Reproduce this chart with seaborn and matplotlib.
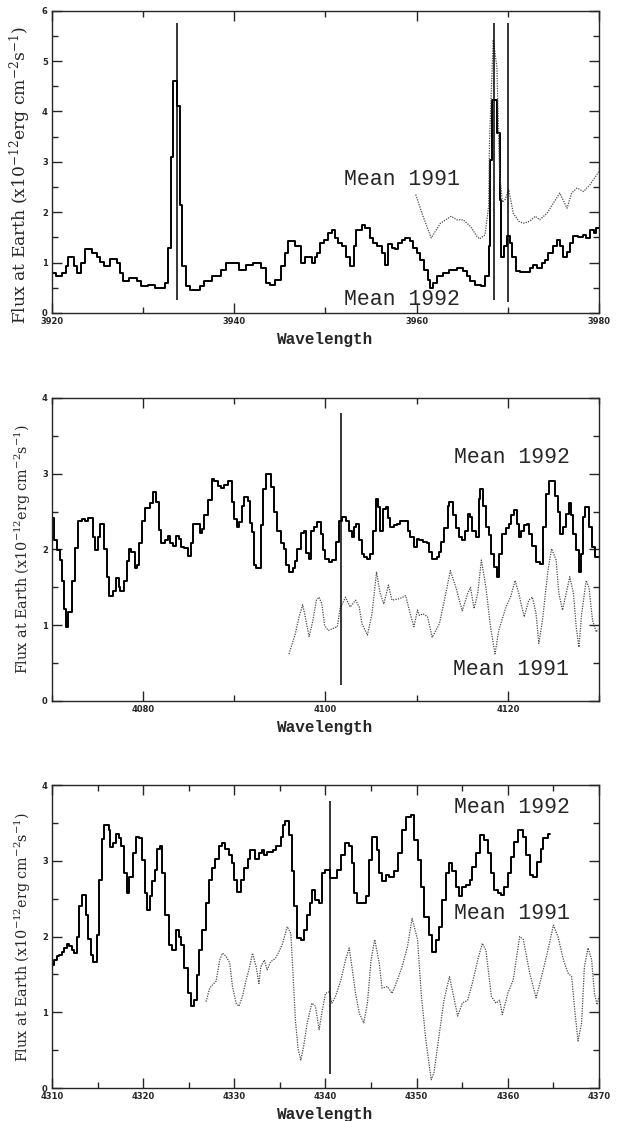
import numpy as np
import pandas as pd
import matplotlib
matplotlib.use('Agg')
import matplotlib.pyplot as plt
import seaborn as sns
from matplotlib.ticker import MultipleLocator

# ---------------------------------------------
# Data: 1992 (step) and 1991 (dotted) means
# ---------------------------------------------

# Panel 1: Ca II H & K region
p1_wl_92 = [3920.0, 3920.4, 3921.1, 3921.5, 3921.8, 3922.4, 3922.7, 3923.2, 3923.6, 3924.4,
            3924.9, 3925.3, 3925.7, 3926.4, 3927.1, 3927.5, 3927.8, 3928.5, 3929.3, 3929.8,
            3930.5, 3931.3, 3932.4, 3932.7, 3933.1, 3933.3, 3933.7, 3934.0, 3934.3, 3934.7,
            3935.1, 3936.2, 3936.7, 3937.5, 3938.5, 3939.1, 3940.5, 3941.3, 3942.0, 3942.9,
            3943.5, 3943.9, 3944.5, 3945.1, 3945.6, 3945.9, 3946.7, 3947.3, 3947.8, 3948.5,
            3948.9, 3949.1, 3949.4, 3949.8, 3950.3, 3950.7, 3951.0, 3951.4, 3951.8, 3952.3,
            3952.7, 3953.1, 3953.4, 3954.0, 3954.3, 3954.9, 3955.2, 3955.6, 3956.2, 3956.5,
            3956.9, 3957.3, 3957.6, 3958.0, 3958.4, 3958.7, 3959.3, 3959.6, 3960.0, 3960.4,
            3960.8, 3961.2, 3961.5, 3961.8, 3962.2, 3962.9, 3963.5, 3964.4, 3965.1, 3965.5,
            3965.9, 3966.4, 3967.1, 3967.5, 3967.9, 3968.0, 3968.3, 3968.8, 3969.1, 3969.3,
            3969.6, 3969.9, 3970.2, 3970.5, 3970.9, 3971.3, 3972.4, 3972.8, 3973.2, 3973.7,
            3974.1, 3974.4, 3975.0, 3975.4, 3975.7, 3976.1, 3976.5, 3976.8, 3977.2, 3977.7,
            3978.3, 3978.6, 3979.0, 3979.4, 3979.7, 3980.0]
p1_flux_92 = [0.80, 0.74, 0.80, 0.93, 1.12, 0.93, 0.79, 1.00, 1.27, 1.19,
              1.12, 1.02, 0.93, 1.07, 1.00, 0.79, 0.63, 0.69, 0.63, 0.54,
              0.56, 0.50, 0.60, 1.29, 3.10, 4.60, 4.10, 2.15, 0.93, 0.54,
              0.46, 0.53, 0.63, 0.73, 0.85, 1.00, 0.86, 0.96, 1.00, 0.89,
              0.60, 0.55, 0.66, 0.93, 1.19, 1.43, 1.32, 1.00, 1.12, 1.00,
              1.12, 1.19, 1.39, 1.45, 1.59, 1.65, 1.49, 1.39, 1.32, 1.12,
              0.93, 1.32, 1.65, 1.75, 1.69, 1.49, 1.39, 1.32, 1.19, 0.96,
              1.36, 1.29, 1.26, 1.39, 1.45, 1.49, 1.42, 1.29, 1.19, 1.06,
              0.86, 0.66, 0.50, 0.59, 0.73, 0.79, 0.85, 0.89, 0.83, 0.73,
              0.63, 0.56, 0.53, 0.73, 1.32, 3.04, 4.23, 3.57, 2.25, 1.12,
              1.32, 1.52, 1.39, 1.12, 0.83, 0.81, 0.89, 0.96, 0.89, 1.00,
              1.06, 1.19, 1.32, 1.45, 1.32, 1.12, 1.22, 1.39, 1.52, 1.51,
              1.55, 1.49, 1.65, 1.59, 1.69, 1.69]
p1_wl_91 = [3959.9, 3960.7, 3961.6, 3962.6, 3963.8, 3964.4, 3965.1, 3965.9, 3966.6, 3966.9,
            3967.5, 3967.9, 3968.0, 3968.2, 3968.4, 3968.8, 3969.0, 3969.1, 3969.4, 3969.7,
            3970.1, 3970.6, 3971.2, 3971.7, 3972.4, 3973.0, 3973.5, 3974.3, 3975.0, 3975.7,
            3976.5, 3977.0, 3977.6, 3978.3, 3979.0, 3980.0]
p1_flux_91 = [2.35, 1.92, 1.49, 1.78, 1.92, 1.85, 1.85, 1.72, 1.52, 1.47,
              1.55, 2.12, 3.44, 4.43, 5.42, 4.89, 3.50, 2.78, 2.20, 2.25,
              2.45, 1.98, 1.82, 1.78, 1.82, 1.92, 1.85, 1.98, 2.18, 2.38,
              2.08, 2.38, 2.48, 2.41, 2.54, 2.81]
p1_lines = [3933.66, 3968.47, 3970.07]
p1_line_lo = [0.26, 0.26, 0.22]
p1_line_hi = [5.75, 5.75, 5.75]

# Panel 2: H-delta region
p2_wl_92 = [4070.0, 4070.25, 4070.55, 4070.9, 4071.1, 4071.3, 4071.5, 4071.8, 4072.2, 4072.5,
            4072.8, 4073.3, 4073.6, 4074.0, 4074.5, 4074.7, 4075.1, 4075.3, 4075.7, 4076.0,
            4076.3, 4076.7, 4077.0, 4077.3, 4077.5, 4077.9, 4078.2, 4078.5, 4078.7, 4079.1,
            4079.3, 4079.6, 4079.9, 4080.2, 4080.7, 4081.1, 4081.4, 4081.7, 4082.0, 4082.4,
            4082.7, 4082.9, 4083.3, 4083.6, 4083.9, 4084.2, 4084.5, 4084.9, 4085.2, 4085.5,
            4085.8, 4086.2, 4086.5, 4086.7, 4087.1, 4087.5, 4087.8, 4088.2, 4088.5, 4088.9,
            4089.3, 4089.7, 4090.0, 4090.3, 4090.5, 4090.8, 4091.1, 4091.5, 4091.7, 4091.9,
            4092.2, 4092.4, 4092.9, 4093.2, 4093.5, 4094.0, 4094.4, 4094.7, 4095.1, 4095.5,
            4095.7, 4096.0, 4096.4, 4096.7, 4096.9, 4097.3, 4097.6, 4097.9, 4098.2, 4098.4,
            4098.7, 4099.1, 4099.5, 4099.7, 4100.0, 4100.4, 4100.7, 4101.2, 4101.5, 4101.8,
            4102.2, 4102.6, 4102.9, 4103.1, 4103.4, 4103.7, 4104.0, 4104.2, 4104.6, 4104.9,
            4105.2, 4105.5, 4105.8, 4106.0, 4106.3, 4106.6, 4106.9, 4107.1, 4107.5, 4107.9,
            4108.2, 4109.0, 4109.3, 4109.7, 4110.0, 4110.3, 4110.7, 4111.1, 4111.4, 4111.7,
            4112.2, 4112.5, 4112.7, 4113.0, 4113.4, 4113.6, 4114.0, 4114.3, 4114.7, 4115.0,
            4115.3, 4115.6, 4115.8, 4116.1, 4116.5, 4116.8, 4117.0, 4117.3, 4117.6, 4117.9,
            4118.2, 4118.5, 4118.8, 4119.0, 4119.4, 4119.8, 4120.1, 4120.3, 4120.7, 4121.0,
            4121.2, 4121.5, 4121.8, 4122.1, 4122.3, 4122.6, 4123.1, 4123.5, 4123.9, 4124.2,
            4124.5, 4124.7, 4125.2, 4125.5, 4125.7, 4126.0, 4126.4, 4126.7, 4126.9, 4127.2,
            4127.5, 4127.8, 4128.0, 4128.3, 4128.5, 4128.9, 4129.2, 4129.6, 4130.0]
p2_flux_92 = [2.41, 2.12, 1.99, 1.86, 1.59, 1.22, 0.97, 1.18, 1.59, 2.02,
              2.37, 2.40, 2.38, 2.42, 2.16, 1.99, 2.16, 2.34, 2.00, 1.64,
              1.38, 1.45, 1.62, 1.50, 1.45, 1.58, 1.85, 2.00, 1.96, 1.75,
              1.80, 2.09, 2.37, 2.55, 2.61, 2.76, 2.62, 2.26, 2.09, 2.13,
              2.18, 2.08, 2.04, 2.18, 2.14, 2.03, 2.02, 1.92, 2.08, 2.34,
              2.33, 2.22, 2.27, 2.45, 2.65, 2.93, 2.90, 2.84, 2.81, 2.85,
              2.90, 2.63, 2.40, 2.29, 2.36, 2.58, 2.69, 2.64, 2.35, 2.23,
              1.79, 1.75, 2.32, 2.80, 3.00, 2.82, 2.50, 2.25, 2.08, 2.00,
              1.80, 1.70, 1.76, 1.85, 2.00, 2.22, 2.24, 1.95, 1.88, 2.25,
              2.30, 2.36, 2.21, 1.99, 1.88, 1.83, 1.86, 2.10, 2.38, 2.43,
              2.38, 2.25, 2.16, 2.30, 2.34, 2.12, 1.94, 1.90, 1.88, 1.94,
              2.25, 2.67, 2.56, 2.25, 2.54, 2.56, 2.41, 2.30, 2.32, 2.34,
              2.38, 2.25, 2.16, 2.03, 2.14, 2.12, 2.10, 2.08, 1.97, 1.87,
              1.90, 1.97, 2.10, 2.28, 2.58, 2.63, 2.45, 2.28, 2.16, 2.12,
              2.25, 2.47, 2.43, 2.25, 2.16, 2.67, 2.80, 2.58, 2.30, 2.19,
              1.94, 1.77, 1.64, 1.94, 2.21, 2.28, 2.34, 2.45, 2.52, 2.34,
              2.16, 2.25, 2.32, 2.34, 2.21, 2.05, 1.83, 1.81, 2.30, 2.73,
              2.91, 2.90, 2.71, 2.50, 2.21, 2.30, 2.47, 2.61, 2.45, 2.21,
              1.99, 1.70, 1.94, 2.43, 2.56, 2.30, 2.03, 1.90, 1.90]
p2_wl_91 = [4096.0, 4096.7, 4097.1, 4097.5, 4097.8, 4098.2, 4098.6, 4099.0, 4099.3, 4099.6,
            4099.9, 4100.3, 4100.7, 4101.3, 4101.6, 4102.2, 4102.7, 4103.3, 4103.7, 4104.0,
            4104.6, 4105.1, 4105.6, 4106.0, 4106.4, 4106.9, 4107.3, 4108.1, 4108.8, 4109.3,
            4109.7, 4110.1, 4110.3, 4110.7, 4111.2, 4111.7, 4112.5, 4113.2, 4113.7, 4114.3,
            4115.0, 4115.6, 4115.9, 4116.3, 4116.7, 4117.1, 4117.6, 4118.1, 4118.6, 4119.0,
            4119.8, 4120.3, 4120.8, 4121.2, 4121.8, 4122.3, 4122.7, 4123.1, 4123.4, 4123.8,
            4124.4, 4124.8, 4125.3, 4125.6, 4126.0, 4126.4, 4126.8, 4127.2, 4127.5, 4127.8,
            4128.1, 4128.6, 4128.9, 4129.3, 4129.7, 4129.9]
p2_flux_91 = [0.62, 0.89, 1.11, 1.27, 1.10, 0.85, 1.05, 1.33, 1.37, 1.28,
              1.00, 0.93, 0.95, 0.98, 1.22, 1.37, 1.24, 1.33, 1.24, 1.02,
              0.87, 1.15, 1.70, 1.42, 1.28, 1.53, 1.33, 1.35, 1.39, 1.15,
              0.98, 1.20, 1.13, 1.15, 1.11, 0.84, 1.02, 1.42, 1.72, 1.50,
              1.19, 1.42, 1.50, 1.22, 1.42, 1.86, 1.50, 0.98, 0.62, 0.93,
              1.24, 1.37, 1.59, 1.42, 1.11, 1.33, 1.37, 1.15, 0.76, 1.06,
              1.72, 2.01, 1.86, 1.42, 1.20, 1.42, 1.64, 1.42, 0.98, 0.71,
              1.15, 1.59, 1.50, 1.06, 0.91, 0.95]
p2_lines = [4101.74]
p2_line_lo = [0.21]
p2_line_hi = [3.80]

# Panel 3: H-gamma region
p3_wl_92 = [4310.0, 4310.2, 4310.5, 4310.8, 4311.1, 4311.3, 4311.6, 4311.9, 4312.2, 4312.4,
            4312.7, 4313.0, 4313.3, 4313.7, 4314.0, 4314.3, 4314.5, 4314.9, 4315.2, 4315.5,
            4315.7, 4316.2, 4316.4, 4316.7, 4317.0, 4317.3, 4317.6, 4317.9, 4318.2, 4318.5,
            4318.9, 4319.2, 4319.6, 4319.9, 4320.2, 4320.4, 4320.7, 4321.0, 4321.3, 4321.5,
            4321.8, 4322.1, 4322.4, 4322.8, 4323.2, 4323.6, 4323.9, 4324.2, 4324.5, 4324.9,
            4325.3, 4325.6, 4325.9, 4326.1, 4326.5, 4326.9, 4327.2, 4327.6, 4327.9, 4328.3,
            4328.7, 4329.0, 4329.4, 4329.7, 4330.0, 4330.3, 4330.7, 4331.1, 4331.5, 4331.7,
            4332.3, 4332.7, 4333.0, 4333.3, 4333.6, 4334.2, 4334.6, 4335.1, 4335.3, 4335.6,
            4336.0, 4336.3, 4336.5, 4336.9, 4337.3, 4337.6, 4338.0, 4338.3, 4338.5, 4338.9,
            4339.3, 4339.6, 4340.0, 4340.5, 4341.3, 4341.7, 4342.1, 4342.6, 4342.9, 4343.1,
            4343.5, 4344.4, 4344.8, 4345.1, 4345.7, 4345.9, 4346.2, 4346.6, 4347.0, 4347.5,
            4348.0, 4348.4, 4348.8, 4349.4, 4349.7, 4350.1, 4350.5, 4350.8, 4351.4, 4351.7,
            4352.1, 4352.5, 4352.8, 4353.2, 4353.6, 4353.9, 4354.3, 4354.7, 4355.0, 4355.4,
            4355.9, 4356.1, 4356.5, 4356.9, 4357.4, 4357.8, 4358.2, 4358.5, 4358.9, 4359.3,
            4359.6, 4360.0, 4360.4, 4360.7, 4361.1, 4361.7, 4362.0, 4362.4, 4362.8, 4363.2,
            4363.6, 4363.9, 4364.4, 4364.6]
p3_flux_92 = [1.63, 1.69, 1.74, 1.76, 1.80, 1.85, 1.90, 1.87, 1.82, 1.78,
              2.00, 2.40, 2.55, 2.29, 1.97, 1.76, 1.66, 2.02, 2.75, 3.29,
              3.47, 3.41, 3.18, 3.23, 3.36, 3.30, 3.19, 2.84, 2.57, 2.79,
              3.10, 3.32, 3.30, 3.01, 2.57, 2.35, 2.53, 2.73, 2.88, 3.16,
              3.19, 2.84, 2.29, 1.89, 1.82, 2.09, 2.00, 1.89, 1.58, 1.25,
              1.08, 1.16, 1.49, 1.82, 2.09, 2.44, 2.75, 2.90, 3.03, 3.19,
              3.24, 3.16, 3.08, 2.97, 2.75, 2.59, 2.75, 2.90, 3.03, 3.14,
              3.03, 3.10, 3.14, 3.08, 3.12, 3.14, 3.19, 3.32, 3.47, 3.52,
              3.34, 2.86, 2.40, 1.98, 1.96, 2.09, 2.29, 2.44, 2.62, 2.48,
              2.44, 2.84, 2.88, 2.77, 2.88, 3.08, 3.23, 3.19, 2.97, 2.57,
              2.44, 2.53, 3.01, 3.32, 3.14, 2.84, 2.73, 2.81, 2.79, 2.86,
              3.10, 3.41, 3.58, 3.60, 3.27, 3.01, 2.66, 2.26, 2.02, 1.80,
              1.96, 2.13, 2.48, 2.84, 2.97, 2.86, 2.66, 2.53, 2.66, 2.68,
              2.75, 2.92, 3.10, 3.34, 3.27, 3.10, 2.84, 2.62, 2.57, 2.55,
              2.66, 2.84, 3.05, 3.25, 3.41, 3.32, 3.08, 2.81, 2.79, 2.99,
              3.16, 3.30, 3.36, 3.36]
p3_wl_91 = [4326.9, 4327.3, 4327.6, 4328.0, 4328.4, 4328.7, 4329.1, 4329.5, 4329.8, 4330.2,
            4330.5, 4330.9, 4331.3, 4331.6, 4332.0, 4332.4, 4332.7, 4332.9, 4333.3, 4333.6,
            4334.0, 4334.5, 4334.9, 4335.3, 4335.8, 4336.2, 4336.4, 4336.7, 4337.0, 4337.3,
            4337.6, 4338.0, 4338.5, 4338.9, 4339.3, 4339.6, 4340.0, 4340.4, 4340.7, 4341.1,
            4341.7, 4342.2, 4342.6, 4342.9, 4343.3, 4343.7, 4344.2, 4344.6, 4345.0, 4345.4,
            4345.9, 4346.2, 4346.8, 4347.3, 4347.9, 4348.4, 4349.0, 4349.5, 4350.1, 4350.5,
            4351.0, 4351.6, 4351.9, 4352.5, 4353.0, 4353.6, 4353.9, 4354.5, 4355.0, 4355.6,
            4356.1, 4356.7, 4357.2, 4357.6, 4358.2, 4358.7, 4359.1, 4359.4, 4360.0, 4360.6,
            4361.3, 4361.7, 4362.4, 4363.1, 4363.7, 4364.4, 4365.0, 4365.5, 4366.1, 4366.6,
            4367.0, 4367.3, 4367.7, 4368.1, 4368.4, 4368.8, 4369.2, 4369.5, 4369.8, 4370.0]
p3_flux_91 = [1.14, 1.32, 1.36, 1.41, 1.69, 1.78, 1.74, 1.65, 1.34, 1.12,
              1.08, 1.21, 1.43, 1.56, 1.78, 1.60, 1.38, 1.60, 1.69, 1.56,
              1.67, 1.71, 1.80, 1.91, 2.13, 2.04, 1.60, 0.90, 0.51, 0.37,
              0.55, 0.86, 1.12, 1.08, 0.77, 0.99, 1.25, 1.27, 1.12, 1.21,
              1.43, 1.69, 1.85, 1.60, 1.25, 0.99, 0.86, 1.12, 1.69, 1.96,
              1.65, 1.32, 1.34, 1.25, 1.43, 1.60, 1.87, 2.24, 1.96, 1.25,
              0.64, 0.11, 0.20, 0.73, 1.16, 1.47, 1.30, 0.95, 1.12, 1.16,
              1.38, 1.69, 1.91, 1.82, 1.21, 1.12, 1.16, 0.97, 1.25, 1.43,
              2.00, 1.96, 1.52, 1.19, 1.47, 1.82, 2.15, 2.00, 1.69, 1.52,
              1.47, 1.08, 0.62, 0.86, 1.60, 1.85, 1.69, 1.25, 1.10, 1.21]
p3_lines = [4340.47]
p3_line_lo = [0.18]
p3_line_hi = [3.79]

# label text and anchor positions (data coords)
labels = ['Mean 1991', 'Mean 1992']
p1_label_xy = [(3958.4, 2.64), (3958.4, 0.26)]
p2_label_xy = [(4120.3, 0.41), (4120.4, 3.21)]
p3_label_xy = [(4360.4, 2.31), (4360.4, 3.70)]

# ---------------------------------------------
# Style
# ---------------------------------------------
sns.set_style('ticks')
plt.rcParams['font.family'] = ['DejaVu Serif']
plt.rcParams['mathtext.fontset'] = 'dejavuserif'
plt.rcParams['axes.linewidth'] = 1.0

fig = plt.figure(figsize=(6.27, 11.21), dpi=100)

panels = [
    dict(rect=[0.0829, 0.7208, 0.8724, 0.2697], xlim=(3920, 3980), ylim=(0, 6),
         xmaj=20, xmin=10, wl92=p1_wl_92, f92=p1_flux_92, wl91=p1_wl_91, f91=p1_flux_91,
         lines=p1_lines, lo=p1_line_lo, hi=p1_line_hi, lab=p1_label_xy,
         ylab_size=12.3, ylab_y=0.455),
    dict(rect=[0.0829, 0.3747, 0.8724, 0.2703], xlim=(4070, 4130), ylim=(0, 4),
         xmaj=20, xmin=10, wl92=p2_wl_92, f92=p2_flux_92, wl91=p2_wl_91, f91=p2_flux_91,
         lines=p2_lines, lo=p2_line_lo, hi=p2_line_hi, lab=p2_label_xy,
         ylab_size=10.4, ylab_y=0.5),
    dict(rect=[0.0829, 0.0294, 0.8724, 0.2703], xlim=(4310, 4370), ylim=(0, 4),
         xmaj=10, xmin=5, wl92=p3_wl_92, f92=p3_flux_92, wl91=p3_wl_91, f91=p3_flux_91,
         lines=p3_lines, lo=p3_line_lo, hi=p3_line_hi, lab=p3_label_xy,
         ylab_size=10.4, ylab_y=0.5),
]

for p in panels:
    ax = fig.add_axes(p['rect'])
    df92 = pd.DataFrame({'wl': p['wl92'], 'flux': p['f92']})
    df91 = pd.DataFrame({'wl': p['wl91'], 'flux': p['f91']})

    sns.lineplot(data=df92, x='wl', y='flux', ax=ax, color='black', lw=1.4,
                 drawstyle='steps-post', estimator=None, sort=False)
    sns.lineplot(data=df91, x='wl', y='flux', ax=ax, color='#4a4a4a', lw=0.9,
                 linestyle=(0, (1, 1)), estimator=None, sort=False)
    ax.vlines(p['lines'], p['lo'], p['hi'], color='black', lw=1.1)

    for txt, (x, y) in zip(labels, p['lab']):
        ax.text(x, y, txt, ha='center', va='center', fontsize=15.5,
                family=['Liberation Mono', 'DejaVu Sans Mono'])

    ax.set_xlim(*p['xlim'])
    ax.set_ylim(*p['ylim'])
    ax.xaxis.set_major_locator(MultipleLocator(p['xmaj']))
    ax.xaxis.set_minor_locator(MultipleLocator(p['xmin']))
    ax.yaxis.set_major_locator(MultipleLocator(1))
    ax.yaxis.set_minor_locator(MultipleLocator(0.5))
    ax.tick_params(which='both', direction='in', top=True, right=True, width=1.0)
    ax.tick_params(which='major', length=7, pad=3)
    ax.tick_params(which='minor', length=4)
    for t in ax.get_xticklabels() + ax.get_yticklabels():
        t.set_fontfamily(['DejaVu Sans'])
        t.set_fontweight('bold')
        t.set_fontsize(6)

    ax.set_xlabel('Wavelength', fontsize=11.5, fontweight='bold',
                  family=['Liberation Mono', 'DejaVu Sans Mono'], labelpad=4)
    ax.set_ylabel(r'Flux at Earth (x10$^{-12}$erg cm$^{-2}$s$^{-1}$)',
                  fontsize=p['ylab_size'])
    ax.yaxis.set_label_coords(-0.034, p['ylab_y'])

fig.savefig('out.png', dpi=100)
